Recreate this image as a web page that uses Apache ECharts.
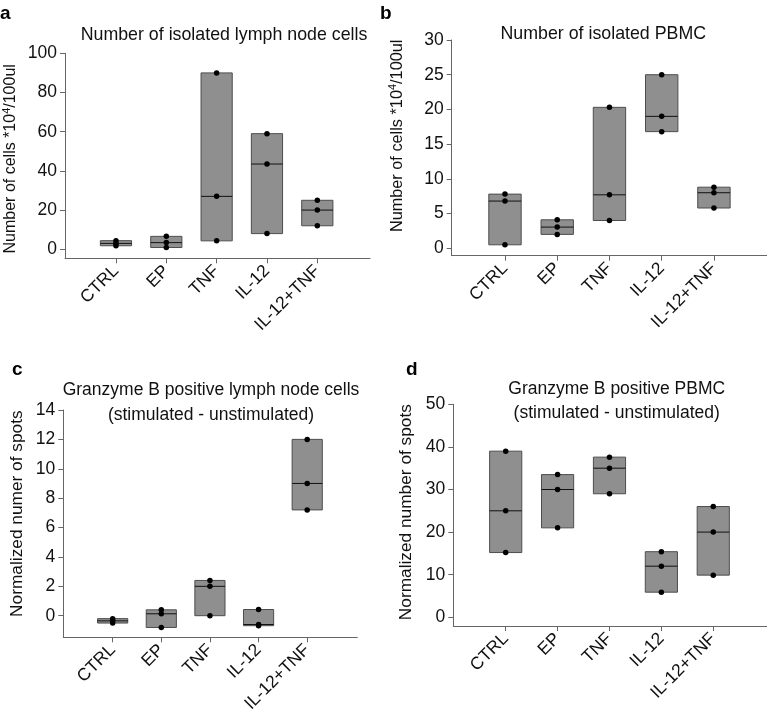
<!DOCTYPE html>
<html><head><meta charset="utf-8">
<script src="https://cdn.jsdelivr.net/npm/echarts@6/dist/echarts.min.js"></script>
<style>html,body{margin:0;padding:0;background:#fff}#c{width:767px;height:721px}</style>
</head><body><div id="c"></div>
<script>
const categories = ['CTRL', 'EP', 'TNF', 'IL-12', 'IL-12+TNF'];
const lymphNodeCells = [[1.8, 3.0, 4.4], [0.9, 3.4, 6.6], [4.3, 27, 90], [8, 43.5, 59], [12, 20, 25]];
const pbmcCells = [[0.5, 6.8, 7.8], [2.0, 3.05, 4.1], [4.0, 7.7, 20.3], [16.8, 19.0, 25.0], [5.8, 8.0, 8.8]];
const gzbLymphNode = [[-0.5, -0.35, -0.2], [-0.8, 0.13, 0.4], [0, 2.0, 2.4], [-0.68, -0.6, 0.42], [7.2, 9.0, 12.0]];
const gzbPbmc = [[15.2, 25, 39], [21, 30, 33.5], [29, 35, 37.6], [5.9, 12, 15.4], [9.9, 20, 26]];
const ticksA = [0, 20, 40, 60, 80, 100];
const ticksB = [0, 5, 10, 15, 20, 25, 30];
const ticksC = [0, 2, 4, 6, 8, 10, 12, 14];
const ticksD = [0, 10, 20, 30, 40, 50];
const titleA = 'Number of isolated lymph node cells';
const titleB = 'Number of isolated PBMC';
const titleC = 'Granzyme B positive lymph node cells\n(stimulated - unstimulated)';
const titleD = 'Granzyme B positive PBMC\n(stimulated - unstimulated)';
const yNameA = 'Number of cells *10{sup|4}/100ul';
const yNameB = 'Number of cells *10{sup|4}/100ul';
const yNameC = 'Normalized numer of spots';
const yNameD = 'Normalized number of spots';

const FONT = 'Liberation Sans, Arial, Helvetica, sans-serif';
const FS = 17.5;
const TXT = '#111';
const AX = '#666';

const panels = [
  { data: lymphNodeCells, ticks: ticksA, yName: yNameA, grid: { left: 65, top: 53.3, width: 305, height: 205 },
    xr: [-1.013, 5.047], yr: [-4.6, 100], nameGap: 44, namePad: [0, 6, 0, 0], nameFs: 16 },
  { data: pbmcCells, ticks: ticksB, yName: yNameB, grid: { left: 451.7, top: 40, width: 315, height: 215.7 },
    xr: [-1.02, 5.01], yr: [-1.07, 30], nameGap: 44, namePad: [0, 0, 0, 24], nameFs: 16.3 },
  { data: gzbLymphNode, ticks: ticksC, yName: yNameC, grid: { left: 63.3, top: 410, width: 294, height: 227.3 },
    xr: [-1.015, 5.03], yr: [-1.47, 14], nameGap: 36, namePad: [0, 0, 0, 20], nameFs: 17.3 },
  { data: gzbPbmc, ticks: ticksD, yName: yNameD, grid: { left: 453.3, top: 404.3, width: 313.4, height: 221.7 },
    xr: [-1.01, 5.03], yr: [-2.04, 50], nameGap: 37, namePad: [0, 0, 0, 6], nameFs: 17.3 }
];

const catIdx = categories.map((c, i) => i);

function renderBox(params, api) {
  const x = api.value(0), lo = api.value(1), med = api.value(2), hi = api.value(3);
  const pLo = api.coord([x, lo]), pHi = api.coord([x, hi]), pMed = api.coord([x, med]);
  const w = api.size([0.62, 0])[0];
  return {
    type: 'group',
    children: [
      { type: 'rect', shape: { x: pLo[0] - w / 2, y: pHi[1], width: w, height: pLo[1] - pHi[1] },
        style: { fill: '#8f8f8f', stroke: '#4d4d4d', lineWidth: 1 } },
      { type: 'line', shape: { x1: pMed[0] - w / 2, y1: pMed[1], x2: pMed[0] + w / 2, y2: pMed[1] },
        style: { stroke: '#111', lineWidth: 1 } }
    ]
  };
}

const grids = [], xAxes = [], yAxes = [], series = [];
panels.forEach((p, k) => {
  grids.push(Object.assign({ outerBoundsMode: 'none', containLabel: false }, p.grid));
  xAxes.push({
    type: 'value', gridIndex: k, min: p.xr[0], max: p.xr[1],
    axisLine: { show: true, onZero: false, lineStyle: { color: AX, width: 1 } },
    axisTick: { show: true, customValues: catIdx, length: 5, lineStyle: { color: AX } },
    axisLabel: { customValues: catIdx, formatter: v => categories[Math.round(v)], rotate: 45,
      fontSize: FS, fontFamily: FONT, color: TXT, margin: 10 },
    splitLine: { show: false }
  });
  yAxes.push({
    type: 'value', gridIndex: k, min: p.yr[0], max: p.yr[1],
    axisLine: { show: true, onZero: false, lineStyle: { color: AX, width: 1 } },
    axisTick: { show: true, customValues: p.ticks, length: 5, lineStyle: { color: AX } },
    axisLabel: { customValues: p.ticks, fontSize: FS, fontFamily: FONT, color: TXT, margin: 8 },
    splitLine: { show: false },
    name: p.yName, nameLocation: 'middle', nameGap: p.nameGap, nameRotate: 90,
    nameTextStyle: { fontSize: p.nameFs, fontFamily: FONT, color: TXT, padding: p.namePad, lineHeight: 20,
      rich: { sup: { fontSize: 11, fontFamily: FONT, color: TXT, verticalAlign: 'top', lineHeight: 20 } } }
  });
  const boxes = p.data.map((vals, i) => {
    const s = vals.slice().sort((a, b) => a - b);
    return [i, s[0], s[1], s[2]];
  });
  series.push({
    type: 'custom', xAxisIndex: k, yAxisIndex: k, renderItem: renderBox, data: boxes,
    encode: { x: 0, y: [1, 2, 3] }, z: 2, silent: true
  });
  const pts = [];
  p.data.forEach((vals, i) => vals.forEach(v => pts.push([i, v])));
  series.push({
    type: 'scatter', xAxisIndex: k, yAxisIndex: k, data: pts, symbolSize: 5.5,
    itemStyle: { color: '#000', opacity: 1 }, z: 5, silent: true
  });
});

function txt(text, x, y, opts) {
  return { type: 'text', x: x, y: y, z: 10, style: Object.assign({ text: text, fontSize: FS, fontFamily: FONT,
    fill: TXT, align: 'center', verticalAlign: 'middle' }, opts || {}) };
}

const graphics = [
  txt('a', 0, 13.5, { fontSize: 19, fontWeight: 'bold', align: 'left', fill: '#000' }),
  txt('b', 380, 13.5, { fontSize: 19, fontWeight: 'bold', align: 'left', fill: '#000' }),
  txt('c', 12, 369.5, { fontSize: 19, fontWeight: 'bold', align: 'left', fill: '#000' }),
  txt('d', 406, 369.5, { fontSize: 19, fontWeight: 'bold', align: 'left', fill: '#000' }),
  txt(titleA, 224, 35, { fontSize: 17.8 }),
  txt(titleB, 603.3, 34, { fontSize: 17.8 }),
  txt(titleC, 211, 402.8, { lineHeight: 25 }),
  txt(titleD, 616.7, 401, { lineHeight: 23.5 })
];

const chart = echarts.init(document.getElementById('c'), null, { renderer: 'canvas' });
chart.setOption({
  animation: false,
  backgroundColor: '#fff',
  grid: grids, xAxis: xAxes, yAxis: yAxes, series: series,
  graphic: graphics
});
</script></body></html>
